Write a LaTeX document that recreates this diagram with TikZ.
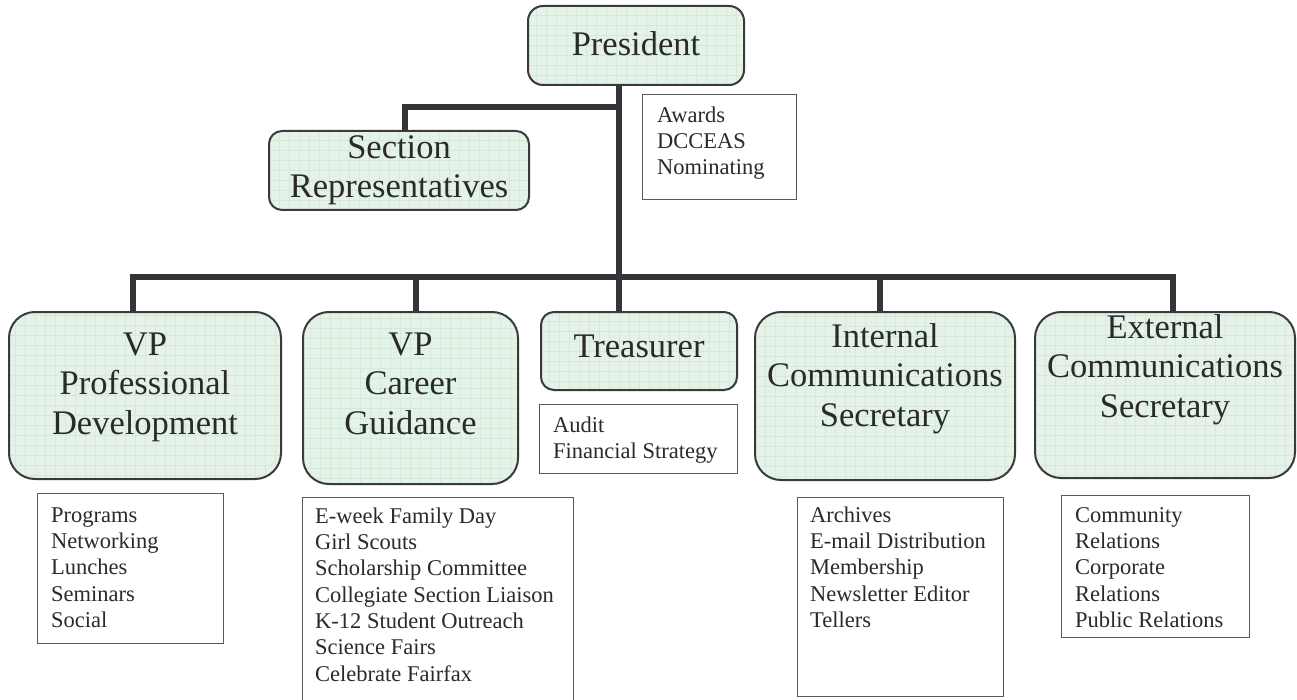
\documentclass[tikz,border=0pt]{standalone}
\usepackage{fontspec}
\setmainfont{Liberation Serif}
\usetikzlibrary{calc,backgrounds}
\definecolor{boxfill}{HTML}{E4F2E7}
\definecolor{gridc}{HTML}{D5E9DB}
\definecolor{boxline}{HTML}{3A3A3A}
\definecolor{connc}{HTML}{353539}
\definecolor{txt}{HTML}{2A2A2A}
\definecolor{listline}{HTML}{5A5A5A}
\begin{document}
\begin{tikzpicture}[x=1pt,y=-1pt,
  orgbox/.style={draw=boxline, line width=2pt, fill=boxfill, rounded corners=#1, inner sep=0pt,
    path picture={\draw[gridc, line width=0.5pt, step=10pt] (path picture bounding box.south west) grid (path picture bounding box.north east);}},
  orgbox/.default=14pt,
  sz/.style 2 args={minimum width=#1pt, minimum height=#2pt},
  biglabel/.style={font=\fontsize{34.5}{39.5}\selectfont, text=txt, inner sep=0pt, align=center, anchor=north},
  listbox/.style={draw=listline, line width=1pt, fill=white, inner sep=0pt, anchor=north west},
  listtext/.style={font=\fontsize{22.5}{26.3}\selectfont, text=txt, inner sep=0pt, align=left, anchor=north west},
  conn/.style={draw=connc, line width=6.5pt, line join=miter}
]
\path[use as bounding box] (0,0) rectangle (1297,700);

% main boxes
\node[orgbox=15pt, sz={216}{79}] (pres) at (636,45.5) {};
\node[orgbox=13pt, sz={260}{79}] (sec) at (399,170.5) {};
\node[orgbox=26pt, sz={272}{167}] (vpp) at (145,395.5) {};
\node[orgbox=26pt, sz={215}{172}] (vpc) at (410.5,398) {};
\node[orgbox=13pt, sz={196}{78}] (tre) at (639,351) {};
\node[orgbox=26pt, sz={260}{168}] (icom) at (885,396) {};
\node[orgbox=26pt, sz={260}{166}] (ecom) at (1165,395) {};

% labels
\node[biglabel] (presl) at (636,30) {\rule{0pt}{25pt}President};
\node[biglabel] (secl) at (399,133) {\rule{0pt}{25pt}Section\\Representatives};
\node[biglabel] (vppl) at (145,330) {\rule{0pt}{25pt}VP\\Professional\\Development};
\node[biglabel] (vpcl) at (410.5,330) {\rule{0pt}{25pt}VP\\Career\\Guidance};
\node[biglabel] (trel) at (639,332) {\rule{0pt}{25pt}Treasurer};
\node[biglabel] (icoml) at (885,322) {\rule{0pt}{25pt}Internal\\Communications\\Secretary};
\node[biglabel] (ecoml) at (1165,313) {\rule{0pt}{25pt}External\\Communications\\Secretary};

% list boxes
\node[listbox, sz={154}{105}] (awl) at (642,94) {};
\node[listbox, sz={186}{150}] (pdl) at (37,493) {};
\node[listbox, sz={271}{215}] (cgl) at (302,497) {};
\node[listbox, sz={198}{69}] (aul) at (539,404) {};
\node[listbox, sz={206}{199}] (icl) at (797,497) {};
\node[listbox, sz={188}{142}] (ecl) at (1061,495) {};

\node[listtext] (awt) at (657,105) {\rule{0pt}{17pt}Awards\\DCCEAS\\Nominating};
\node[listtext] (pdt) at (51,505) {\rule{0pt}{17pt}Programs\\Networking\\Lunches\\Seminars\\Social};
\node[listtext] (cgt) at (315,506) {\rule{0pt}{17pt}E-week Family Day\\Girl Scouts\\Scholarship Committee\\Collegiate Section Liaison\\K-12 Student Outreach\\Science Fairs\\Celebrate Fairfax};
\node[listtext] (aut) at (553,415) {\rule{0pt}{17pt}Audit\\Financial Strategy};
\node[listtext] (ict) at (810,505) {\rule{0pt}{17pt}Archives\\E-mail Distribution\\Membership\\Newsletter Editor\\Tellers};
\node[listtext] (ect) at (1075,505) {\rule{0pt}{17pt}Community\\Relations\\Corporate\\Relations\\Public Relations};

% connectors
\coordinate (tj) at (619,107);
\coordinate (sj) at (405,107);
\coordinate (bl) at (133,277);
\coordinate (br) at (1173,277);
\coordinate (bc) at (416,277);
\coordinate (bi) at (880,277);
\coordinate (bt) at (619,277);
\begin{scope}[on background layer]
\fill[white] (0,0) rectangle (1297,700);
\draw[conn] (bt |- pres.south) -- (bt |- tre.north);
\draw[conn] (tj) -- (sj) -- (sj |- sec.north);
\draw[conn] (bl |- vpp.north) -- (bl) -- (br) -- (br |- ecom.north);
\draw[conn] (bc) -- (bc |- vpc.north);
\draw[conn] (bi) -- (bi |- icom.north);
\end{scope}
\end{tikzpicture}
\end{document}
